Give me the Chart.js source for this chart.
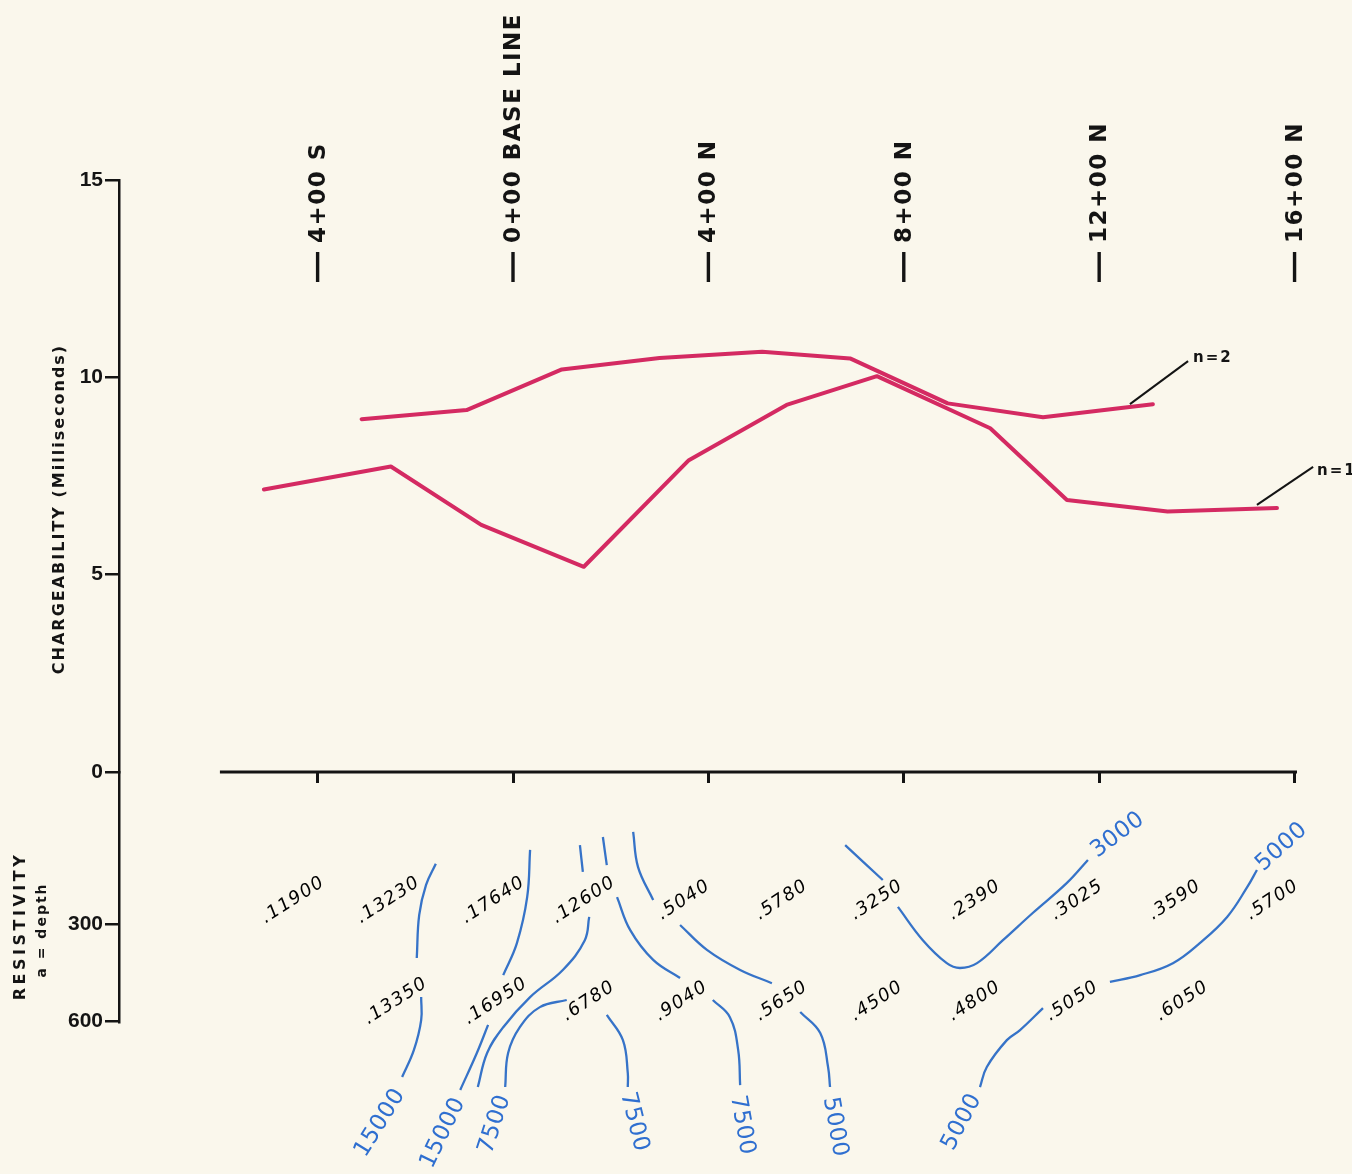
<!DOCTYPE html>
<html><head><meta charset="utf-8">
<script src="https://cdn.jsdelivr.net/npm/chart.js@4.4.1/dist/chart.umd.min.js"></script>
<style>
html,body{margin:0;padding:0;background:#faf7ec;}
#wrap{position:relative;width:1352px;height:1174px;}
</style></head><body>
<div id="wrap"><canvas id="c" width="1352" height="1174"></canvas></div>
<script>
// ---- stations (hundreds of feet, negative = south) ----
const stationTicks = [-4, 0, 4, 8, 12, 16];
const stationNames = ['4+00 S', '0+00 BASE LINE', '4+00 N', '8+00 N', '12+00 N', '16+00 N'];
const chargeTicks = [0, 5, 10, 15];
const depthTicks = [300, 600];
const profileExtent = [-6, 16.05];

// ---- chargeability profiles (milliseconds) ----
const n1Stations = [-5.1, -2.5, -0.65, 1.45, 3.6, 5.6, 7.45, 9.77, 11.34, 13.4, 15.64];
const n1Charge   = [7.16, 7.74, 6.26, 5.20, 7.9, 9.3, 10.03, 8.71, 6.89, 6.6, 6.69];
const n2Stations = [-3.1, -0.95, 1.0, 3.0, 5.1, 6.9, 8.9, 10.85, 13.1];
const n2Charge   = [8.94, 9.17, 10.2, 10.49, 10.65, 10.48, 9.34, 8.99, 9.32];

// ---- apparent resistivity values (pseudo-section) ----
const resN1Stations = [-4.5, -2.55, -0.4, 1.45, 3.5, 5.5, 7.45, 9.45, 11.55, 13.55, 15.55];
const resN1Values = ['.11900', '.13230', '.17640', '.12600', '.5040', '.5780', '.3250', '.2390', '.3025', '.3590', '.5700'];
const resN2Stations = [-2.4, -0.35, 1.55, 3.45, 5.5, 7.45, 9.45, 11.45, 13.7];
const resN2Values = ['.13350', '.16950', '.6780', '.9040', '.5650', '.4500', '.4800', '.5050', '.6050'];

// ---- resistivity contours: segments of [station, depth ft] ----
const contour15000a = [
  [[-1.58, 114], [-1.78, 179], [-1.92, 272], [-1.97, 405]],
  [[-1.88, 526], [-1.88, 597], [-2.03, 690], [-2.27, 773]]
];
const contour15000b = [
  [[0.35, 71], [0.29, 217], [0.08, 359], [-0.20, 458]],
  [[-0.51, 612], [-0.74, 699], [-1.08, 813]]
];
const contour7500a = [
  [[1.37, 56], [1.43, 139]],
  [[1.56, 278], [1.47, 350], [1.02, 442], [0.35, 526], [-0.20, 619], [-0.53, 699], [-0.72, 804]]
];
const contour7500b = [
  [[1.10, 535], [0.55, 557], [0.14, 619], [-0.10, 699], [-0.16, 804]],
  [[1.92, 581], [2.25, 659], [2.35, 761], [2.35, 804]]
];
const contour7500c = [
  [[1.84, 31], [1.92, 118]],
  [[2.13, 217], [2.40, 319], [2.87, 411], [3.42, 467]],
  [[4.09, 535], [4.44, 588], [4.61, 690], [4.65, 798]]
];
const contour5000a = [
  [[2.46, 15], [2.56, 124], [2.87, 226]],
  [[3.42, 303], [3.97, 380], [4.65, 442], [5.30, 483]],
  [[5.88, 572], [6.29, 637], [6.45, 742], [6.49, 804]]
];
const contour3000 = [
  [[6.80, 56], [7.57, 164]],
  [[7.88, 247], [8.39, 350], [8.88, 421], [9.15, 436], [9.50, 421], [10.03, 350], [10.64, 266], [11.34, 173], [11.77, 102]]
];
const contour5000b = [
  [[9.56, 804], [9.70, 742], [10.11, 659], [10.38, 628], [10.85, 560]],
  [[12.22, 479], [12.84, 458], [13.51, 421], [14.06, 359], [14.62, 278], [15.03, 186], [15.23, 133]]
];
const contourLabelText = ['15000', '15000', '7500', '7500', '7500', '5000', '5000', '3000', '5000'];
const contourLabelStation = [-2.72, -1.43, -0.37, 2.48, 4.69, 6.59, 9.19, 12.38, 15.74];
const contourLabelDepth = [915, 946, 919, 912, 922, 928, 912, 25, 62];

// ---- styles ----
const INK = '#141414';
const MAGENTA = '#d42a62';
const BLUE_LINE = '#3673c8';
const BLUE_TEXT = '#2f6fd0';
const PAPER = '#faf7ec';
const contourLabelAngles = [-58, -64, -72, 76, 80, 80, -62, -37, -42];

const datasets = [];
const allContours = [contour15000a, contour15000b, contour7500a, contour7500b, contour7500c, contour5000a, contour3000, contour5000b];
allContours.forEach(c => c.forEach(seg => {
  datasets.push({
    data: seg.map(p => ({x: p[0], y: p[1]})),
    yAxisID: 'yd', showLine: true, borderColor: BLUE_LINE, borderWidth: 2.3,
    pointRadius: 0, tension: 0.4, clip: false, order: 3
  });
}));
datasets.push({
  data: profileExtent.map(s => ({x: s, y: 0})),
  yAxisID: 'y', showLine: true, borderColor: INK, borderWidth: 3, pointRadius: 0, clip: false, order: 2
});
datasets.push({
  label: 'n=1', data: n1Stations.map((s, i) => ({x: s, y: n1Charge[i]})),
  yAxisID: 'y', showLine: true, borderColor: MAGENTA, borderWidth: 4, pointRadius: 0,
  tension: 0, borderJoinStyle: 'round', borderCapStyle: 'round', clip: false, order: 1
});
datasets.push({
  label: 'n=2', data: n2Stations.map((s, i) => ({x: s, y: n2Charge[i]})),
  yAxisID: 'y', showLine: true, borderColor: MAGENTA, borderWidth: 4, pointRadius: 0,
  tension: 0, borderJoinStyle: 'round', borderCapStyle: 'round', clip: false, order: 1
});
datasets.push({
  data: resN1Stations.map(s => ({x: s, y: depthTicks[0]})), yAxisID: 'yd', pointRadius: 0, clip: false,
  textLabels: resN1Values, textDy: -24, textAngle: -33, textFont: 'oblique 18px "DejaVu Sans"', textColor: '#000', textSpacing: '1.5px'
});
datasets.push({
  data: resN2Stations.map(s => ({x: s, y: depthTicks[1]})), yAxisID: 'yd', pointRadius: 0, clip: false,
  textLabels: resN2Values, textDy: -20, textAngle: -33, textFont: 'oblique 18px "DejaVu Sans"', textColor: '#000', textSpacing: '1.5px'
});
datasets.push({
  data: contourLabelStation.map((s, i) => ({x: s, y: contourLabelDepth[i]})), yAxisID: 'yd', pointRadius: 0, clip: false,
  textLabels: contourLabelText, textDy: 0, textAngle: contourLabelAngles, textFont: '23px "DejaVu Sans"', textColor: BLUE_TEXT, textSpacing: '0.5px'
});

const overlay = {
  id: 'overlay',
  beforeDraw(chart) {
    const c = chart.ctx; c.save(); c.fillStyle = PAPER; c.fillRect(0, 0, chart.width, chart.height); c.restore();
  },
  afterDatasetsDraw(chart) {
    const ctx = chart.ctx;
    chart.data.datasets.forEach((ds, i) => {
      if (!ds.textLabels) return;
      const meta = chart.getDatasetMeta(i);
      meta.data.forEach((el, j) => {
        const ang = Array.isArray(ds.textAngle) ? ds.textAngle[j] : ds.textAngle;
        ctx.save();
        ctx.translate(el.x, el.y + ds.textDy);
        ctx.rotate(ang * Math.PI / 180);
        ctx.font = ds.textFont; ctx.fillStyle = ds.textColor;
        ctx.letterSpacing = ds.textSpacing;
        ctx.textAlign = 'center'; ctx.textBaseline = 'middle';
        ctx.fillText(ds.textLabels[j], 0, 0);
        ctx.restore();
      });
    });
  },
  afterDraw(chart) {
    const ctx = chart.ctx, xs = chart.scales.x, ys = chart.scales.y;
    // station labels along the top
    stationTicks.forEach((s, i) => {
      const px = xs.getPixelForValue(s);
      ctx.save();
      ctx.strokeStyle = INK; ctx.lineWidth = 3.4;
      ctx.beginPath(); ctx.moveTo(px, 282); ctx.lineTo(px, 252); ctx.stroke();
      ctx.translate(px, 243); ctx.rotate(-Math.PI / 2);
      ctx.font = 'bold 23px "DejaVu Sans"'; ctx.fillStyle = INK; ctx.letterSpacing = '1.5px';
      ctx.textAlign = 'left'; ctx.textBaseline = 'middle';
      ctx.fillText(stationNames[i], 0, 1);
      ctx.restore();
    });
    // axis titles
    const vtext = (t, x, y, font, sp) => {
      ctx.save(); ctx.translate(x, y); ctx.rotate(-Math.PI / 2);
      ctx.font = font; ctx.fillStyle = INK; ctx.letterSpacing = sp;
      ctx.textAlign = 'center'; ctx.textBaseline = 'middle'; ctx.fillText(t, 0, 0); ctx.restore();
    };
    vtext('CHARGEABILITY (Milliseconds)', 60, 509, 'bold 16px "DejaVu Sans"', '2px');
    vtext('RESISTIVITY', 21, 926, 'bold 16px "DejaVu Sans"', '3.5px');
    vtext('a = depth', 42, 930, 'bold 14px "DejaVu Sans"', '2px');
    // n labels with leaders
    const leader = (s0, v0, s1, v1, txt, ts, tv) => {
      ctx.save(); ctx.strokeStyle = INK; ctx.lineWidth = 2;
      ctx.beginPath(); ctx.moveTo(xs.getPixelForValue(s0), ys.getPixelForValue(v0));
      ctx.lineTo(xs.getPixelForValue(s1), ys.getPixelForValue(v1)); ctx.stroke();
      ctx.font = 'bold 15px "DejaVu Sans"'; ctx.fillStyle = INK; ctx.letterSpacing = '2px';
      ctx.textAlign = 'left'; ctx.textBaseline = 'middle';
      ctx.fillText(txt, xs.getPixelForValue(ts), ys.getPixelForValue(tv));
      ctx.restore();
    };
    leader(12.63, 9.32, 13.82, 10.41, 'n=2', 13.92, 10.49);
    leader(15.23, 6.77, 16.38, 7.73, 'n=1', 16.46, 7.63);
  }
};

const axisTickStyle = { drawOnChartArea: false, drawTicks: true, tickLength: 14, lineWidth: 2.5, color: INK };
const tickFont = { family: '"Liberation Sans"', size: 21, weight: 'bold' };
new Chart(document.getElementById('c'), {
  type: 'scatter',
  data: { datasets },
  options: {
    responsive: false, animation: false, events: [],
    layout: { padding: { left: 0, top: 180, right: 55, bottom: 152 } },
    plugins: { legend: { display: false }, tooltip: { enabled: false } },
    scales: {
      x: {
        type: 'linear', min: -8.066, max: 16.05, position: { y: 0 },
        border: { display: false },
        grid: { drawOnChartArea: false, drawTicks: true, tickLength: 11, lineWidth: 3, color: INK },
        ticks: { callback: () => '' },
        afterBuildTicks: s => { s.ticks = stationTicks.map(v => ({ value: v })); }
      },
      yd: {
        type: 'linear', min: -170, max: 603, reverse: true, position: 'left', stack: 'left', stackWeight: 250,
        border: { color: INK, width: 2.5 },
        grid: axisTickStyle,
        ticks: { color: INK, padding: 2, font: tickFont, callback: v => String(v) },
        afterBuildTicks: s => { s.ticks = depthTicks.map(v => ({ value: v })); },
        afterFit: s => { s.width = 119; }
      },
      y: {
        type: 'linear', min: 0, max: 15, position: 'left', stack: 'left', stackWeight: 592,
        border: { color: INK, width: 2.5 },
        grid: axisTickStyle,
        ticks: { color: INK, padding: 2, font: tickFont, callback: v => String(v) },
        afterBuildTicks: s => { s.ticks = chargeTicks.map(v => ({ value: v })); },
        afterFit: s => { s.width = 119; }
      }
    }
  },
  plugins: [overlay]
});
</script>
</body></html>
